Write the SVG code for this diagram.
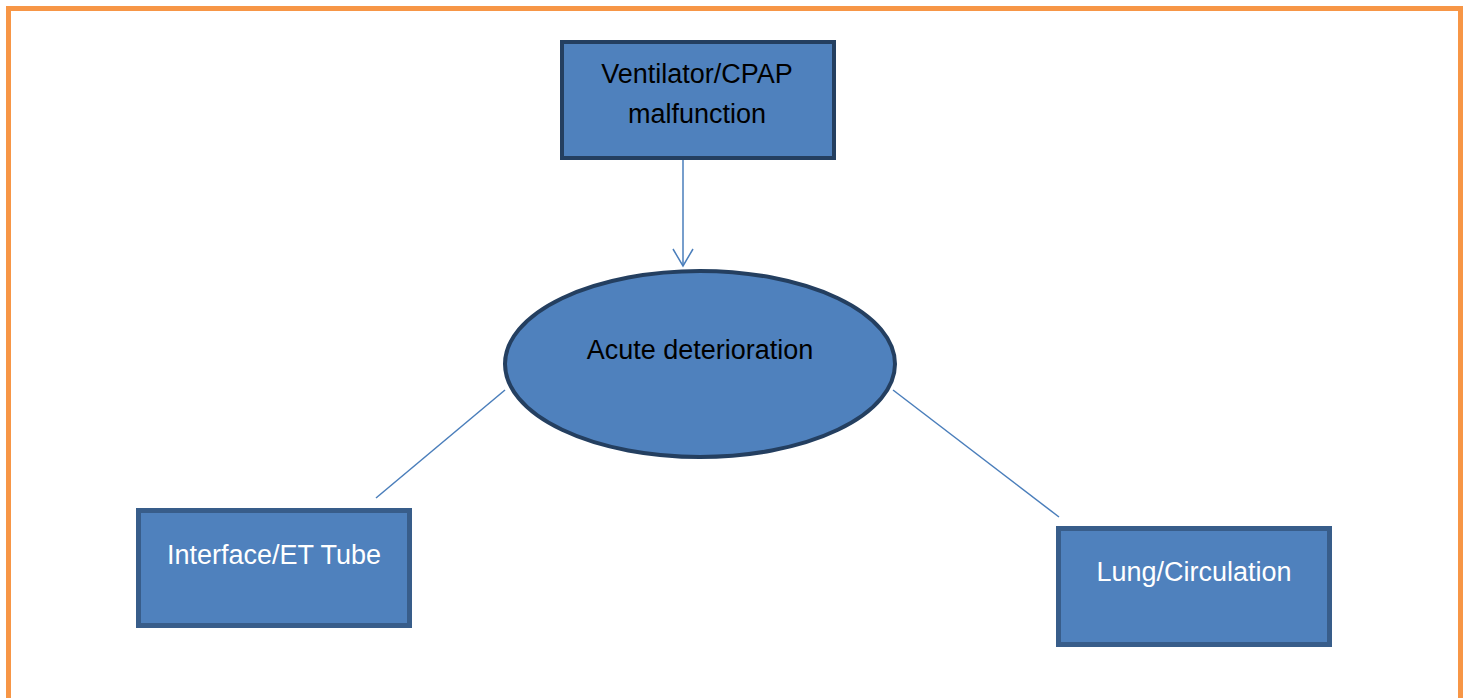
<svg xmlns="http://www.w3.org/2000/svg" width="1470" height="698" viewBox="0 0 1470 698">
  <style>
    .lbl { font-family: "Liberation Sans", Arial, sans-serif; font-size: 27px; text-anchor: middle; }
    .dark { fill: #000000; }
    .light { fill: #ffffff; }
    .main { fill: #4f81bd; stroke: #243f60; stroke-width: 4; }
    .sub { fill: #4f81bd; stroke: #385d8a; stroke-width: 5; }
    .link { stroke: #4a7ebb; stroke-width: 1.5; fill: none; }
  </style>
  <defs>
    <marker id="arrowOpen" viewBox="0 0 20 22" refX="18" refY="11" markerWidth="20" markerHeight="22" markerUnits="userSpaceOnUse" orient="auto">
      <path d="M1,1 L18,11 L1,21" fill="none" stroke="#4a7ebb" stroke-width="1.5"/>
    </marker>
  </defs>
  <rect width="1470" height="698" fill="#ffffff"/>
  <!-- page frame -->
  <rect x="8.5" y="8.5" width="1452" height="720" fill="none" stroke="#f79646" stroke-width="5"/>

  <g id="connectors">
    <line class="link" x1="683" y1="160" x2="683" y2="266" marker-end="url(#arrowOpen)"/>
    <line class="link" x1="505" y1="390" x2="376" y2="498"/>
    <line class="link" x1="893" y1="390" x2="1059" y2="517"/>
  </g>

  <g id="node-ventilator">
    <rect class="main" x="562" y="42" width="272" height="116"/>
    <text class="lbl dark" x="697" y="83">Ventilator/CPAP</text>
    <text class="lbl dark" x="697" y="123">malfunction</text>
  </g>

  <g id="node-acute">
    <ellipse class="main" cx="700" cy="364" rx="195" ry="93"/>
    <text class="lbl dark" x="700" y="359">Acute deterioration</text>
  </g>

  <g id="node-interface">
    <rect class="sub" x="138.5" y="510.5" width="271" height="115"/>
    <text class="lbl light" x="274" y="564">Interface/ET Tube</text>
  </g>

  <g id="node-lung">
    <rect class="sub" x="1058.5" y="528.5" width="271" height="116"/>
    <text class="lbl light" x="1194" y="581">Lung/Circulation</text>
  </g>
</svg>
